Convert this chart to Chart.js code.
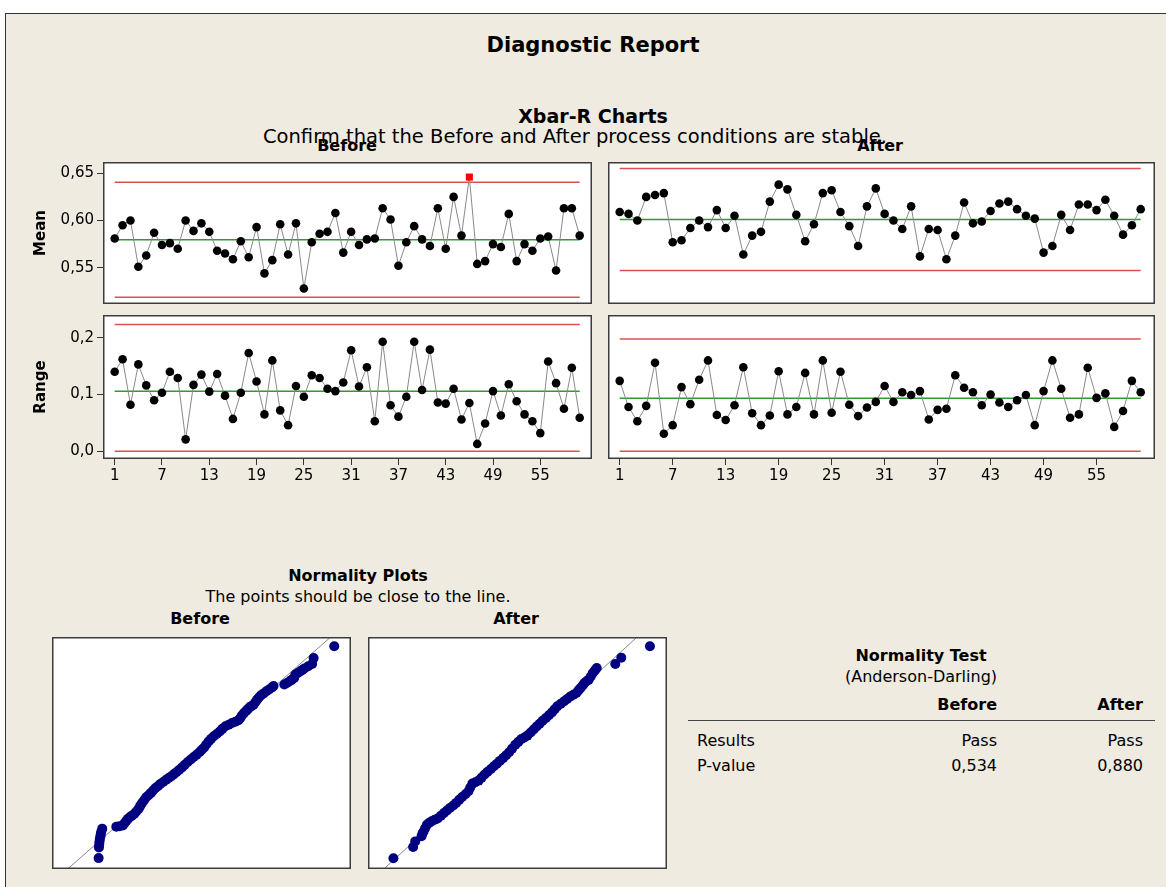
<!DOCTYPE html>
<html><head><meta charset="utf-8">
<script src="https://cdn.jsdelivr.net/npm/chart.js@4"></script>
<style>
html,body{margin:0;padding:0;background:#fff;}
#page{position:relative;width:1166px;height:887px;overflow:hidden;background:#fff;}
#bg{position:absolute;left:5px;top:13px;width:1161px;height:874px;background:#EFEBE1;border-left:1px solid #333;border-top:1px solid #333;box-sizing:border-box;}
.t{position:absolute;white-space:nowrap;font-family:"DejaVu Sans",sans-serif;color:#000;line-height:1;}
.c{transform:translate(-50%,-50%);}
.r{transform:translate(-100%,-50%);}
.l{transform:translate(0,-50%);}
.b{font-weight:bold;}
canvas{position:absolute;}
#rule{position:absolute;left:688px;top:720px;width:467px;height:0;border-top:1px solid #444;}
</style></head>
<body><div id="page">
<div id="bg"></div>
<div class="t c b" style="left:593px;top:45px;font-size:21px;">Diagnostic Report</div>
<div class="t c b" style="left:593px;top:116px;font-size:19px;">Xbar-R Charts</div>
<div class="t c" style="left:575px;top:137px;font-size:19.5px;">Confirm that the Before and After process conditions are stable.</div>
<div class="t c b" style="left:347px;top:146px;font-size:16px;">Before</div>
<div class="t c b" style="left:880px;top:146px;font-size:16px;">After</div>

<canvas id="bm" width="572" height="175" style="left:28px;top:145px;"></canvas>
<canvas id="br" width="572" height="195" style="left:28px;top:300px;"></canvas>
<canvas id="am" width="566" height="175" style="left:600px;top:145px;"></canvas>
<canvas id="ar" width="566" height="195" style="left:600px;top:300px;"></canvas>

<div class="t c b" style="left:358px;top:576px;font-size:16px;">Normality Plots</div>
<div class="t c" style="left:358px;top:597px;font-size:16px;">The points should be close to the line.</div>
<div class="t c b" style="left:200px;top:619px;font-size:16px;">Before</div>
<div class="t c b" style="left:516px;top:619px;font-size:16px;">After</div>
<canvas id="nb" width="299" height="232" style="left:52px;top:637px;"></canvas>
<canvas id="na" width="299" height="232" style="left:368px;top:637px;"></canvas>

<div class="t c b" style="left:921px;top:656px;font-size:16px;">Normality Test</div>
<div class="t c" style="left:921px;top:677px;font-size:16px;">(Anderson-Darling)</div>
<div class="t r b" style="left:997px;top:705px;font-size:16px;">Before</div>
<div class="t r b" style="left:1143px;top:705px;font-size:16px;">After</div>
<div id="rule"></div>
<div class="t l" style="left:697px;top:741px;font-size:16px;">Results</div>
<div class="t r" style="left:997px;top:741px;font-size:16px;">Pass</div>
<div class="t r" style="left:1143px;top:741px;font-size:16px;">Pass</div>
<div class="t l" style="left:697px;top:766px;font-size:16px;">P-value</div>
<div class="t r" style="left:997px;top:766px;font-size:16px;">0,534</div>
<div class="t r" style="left:1143px;top:766px;font-size:16px;">0,880</div>
</div>
<script>
// ---------- data ----------
const xTicks = [1, 7, 13, 19, 25, 31, 37, 43, 49, 55];
const meanTicks = [0.55, 0.60, 0.65];
const rangeTicks = [0.0, 0.1, 0.2];

const beforeMean = [0.581,0.595,0.600,0.551,0.563,0.587,0.574,0.576,0.570,0.600,
  0.589,0.597,0.588,0.568,0.565,0.559,0.578,0.561,0.593,0.544,
  0.558,0.596,0.564,0.597,0.528,0.577,0.586,0.588,0.608,0.566,
  0.588,0.574,0.580,0.581,0.613,0.601,0.552,0.577,0.594,0.580,
  0.573,0.613,0.570,0.625,0.584,0.646,0.554,0.557,0.575,0.572,
  0.607,0.557,0.575,0.568,0.581,0.583,0.547,0.613,0.613,0.584];
const beforeRange = [0.140,0.162,0.082,0.153,0.116,0.090,0.103,0.140,0.129,0.021,
  0.117,0.135,0.105,0.136,0.098,0.057,0.103,0.173,0.123,0.065,
  0.160,0.072,0.046,0.115,0.096,0.134,0.129,0.110,0.106,0.121,
  0.178,0.114,0.148,0.053,0.193,0.081,0.061,0.096,0.193,0.108,
  0.179,0.086,0.084,0.110,0.056,0.085,0.013,0.049,0.106,0.063,
  0.118,0.088,0.065,0.053,0.032,0.158,0.120,0.075,0.147,0.059];
const afterMean = [0.609,0.607,0.600,0.625,0.627,0.629,0.577,0.579,0.592,0.600,
  0.593,0.611,0.592,0.605,0.564,0.584,0.588,0.620,0.638,0.633,
  0.606,0.578,0.596,0.629,0.632,0.609,0.594,0.573,0.615,0.634,
  0.607,0.600,0.591,0.615,0.562,0.591,0.590,0.559,0.584,0.619,
  0.597,0.599,0.610,0.618,0.620,0.612,0.605,0.602,0.566,0.573,
  0.606,0.590,0.617,0.617,0.611,0.622,0.605,0.585,0.595,0.612];
const afterRange = [0.124,0.078,0.053,0.080,0.156,0.031,0.046,0.113,0.083,0.126,
  0.160,0.064,0.055,0.081,0.148,0.067,0.046,0.063,0.141,0.065,
  0.078,0.138,0.065,0.160,0.068,0.140,0.082,0.062,0.077,0.087,
  0.115,0.087,0.104,0.099,0.106,0.056,0.073,0.075,0.134,0.112,
  0.104,0.081,0.100,0.086,0.078,0.090,0.099,0.046,0.106,0.160,
  0.110,0.059,0.065,0.147,0.094,0.102,0.043,0.071,0.124,0.104];

// control limits [LCL, CL, UCL]
const beforeMeanLimits = [0.5188, 0.5797, 0.6406];
const beforeRangeLimits = [0, 0.1056, 0.2233];
const afterMeanLimits = [0.5470, 0.6010, 0.6550];
const afterRangeLimits = [0, 0.0935, 0.1977];

// normal probability plot points (% of plot width / % of plot height)
const normBeforeX = [15.6,15.7,15.8,15.9,16.0,16.2,16.3,16.5,16.8,
  21.5,22.6,23.7,24.3,24.9,25.4,26.0,26.7,27.5,28.2,29.0,29.5,30.1,30.8,31.5,32.3,33.1,33.8,34.6,35.4,36.2,37.2,38.2,39.0,39.8,40.7,41.6,42.5,43.5,44.4,45.4,46.4,47.4,48.4,49.4,50.1,50.9,51.6,52.4,53.2,54.1,55.1,56.1,57.0,58.0,59.1,60.2,61.3,62.4,63.0,63.5,64.2,65.0,65.5,66.1,66.7,67.4,68.0,68.6,69.2,69.9,70.8,71.7,72.6,73.6,74.1,
  77.7,78.6,79.5,80.2,81.0,81.4,82.2,83.1,83.7,84.4,85.7,87.0,87.5,94.4];
const normBeforeY = [4.7,9.3,10.6,11.9,13.0,14.1,15.1,16.2,17.4,
  18.2,18.4,18.8,19.8,20.8,21.6,22.3,23.0,23.7,24.8,26.0,27.2,28.4,29.6,30.9,31.8,32.8,33.8,34.9,35.7,36.6,37.5,38.5,39.2,39.9,40.8,41.7,42.7,43.8,44.9,46.1,47.2,48.3,49.3,50.4,51.4,52.4,53.7,55.0,56.1,57.2,58.2,59.3,60.4,61.5,62.2,62.9,63.5,64.1,65.1,66.2,67.2,68.2,68.9,69.7,70.2,70.8,71.9,73.0,73.9,74.9,75.7,76.6,77.4,78.3,78.9,
  79.5,80.2,80.9,81.6,82.3,83.8,84.5,85.2,85.8,86.4,87.4,88.4,90.9,96.0];
const normAfterX = [8.5,15.1,15.8,
  17.9,18.2,18.6,19.1,19.7,20.5,21.3,22.3,23.3,24.4,25.4,26.4,27.4,28.5,29.5,30.5,31.5,32.6,33.6,34.2,34.9,35.9,37.0,38.0,39.0,40.0,41.1,42.1,43.1,44.1,45.2,46.2,47.2,48.2,49.3,50.3,51.3,52.3,53.3,54.4,55.4,56.4,57.4,58.4,59.5,60.5,61.5,62.4,63.3,64.5,65.6,66.6,67.7,68.7,69.7,70.4,71.1,71.8,72.4,73.1,73.8,74.5,75.2,75.9,76.5,
  82.7,84.7,94.3];
const normAfterY = [4.6,9.5,11.9,
  14.1,15.2,16.2,17.6,19.1,19.9,20.6,21.2,21.8,23.0,24.1,25.2,26.3,27.4,28.5,29.8,31.0,32.2,33.5,35.1,36.8,37.4,38.1,39.4,40.7,41.9,43.1,44.3,45.4,46.6,47.8,49.0,50.3,51.9,53.6,54.8,56.0,56.7,57.5,58.8,60.1,61.4,62.6,63.9,65.1,66.3,67.5,68.8,70.1,71.2,72.3,73.3,74.4,75.1,75.9,77.0,78.0,79.1,80.2,80.9,81.6,83.0,84.5,85.6,86.6,
  88.4,91.1,96.0];
const normBeforeLine = [5.25, 93.2];   // line x at bottom / top of plot
const normAfterLine = [5.3, 90.0];

// ---------- setup ----------
const FONT = '"DejaVu Sans",sans-serif';
Chart.defaults.font.family = FONT;
Chart.defaults.color = '#000';
Chart.defaults.animation = false;
Chart.defaults.responsive = false;
Chart.defaults.devicePixelRatio = 1;
Chart.defaults.plugins.legend.display = false;
Chart.defaults.plugins.tooltip.enabled = false;

const framePlugin = {
  id: 'frame',
  beforeDraw(chart) {
    const a = chart.chartArea, c = chart.ctx;
    c.save(); c.fillStyle = '#fff';
    c.fillRect(a.left, a.top, a.right - a.left, a.bottom - a.top); c.restore();
  },
  afterDraw(chart) {
    const a = chart.chartArea, c = chart.ctx;
    c.save(); c.strokeStyle = '#3c3c3c'; c.lineWidth = 1.5;
    c.strokeRect(a.left + 0.75, a.top + 0.75, a.right - a.left - 1.5, a.bottom - a.top - 1.5); c.restore();
  }
};

const RED = '#de5050', GREEN = '#2f9a2f';

function controlChart(id, values, limits, o) {
  const [lcl, cl, ucl] = limits;
  const pts = values.map((v, i) => ({x: i + 1, y: v}));
  const flat = y => [{x: 1, y}, {x: values.length, y}];
  const out = c => c.raw && (c.raw.y > ucl || c.raw.y < lcl);
  return new Chart(document.getElementById(id), {
    type: 'line',
    data: {datasets: [
      {data: pts, borderColor: '#8a8a8a', borderWidth: 1, tension: 0,
       pointRadius: c => out(c) ? 5 : 4.3,
       pointStyle: c => out(c) ? 'rect' : 'circle',
       pointBackgroundColor: c => out(c) ? '#ff0000' : '#000',
       pointBorderWidth: 0},
      {data: flat(cl), borderColor: GREEN, borderWidth: 1.5, pointRadius: 0},
      {data: flat(ucl), borderColor: RED, borderWidth: 1.5, pointRadius: 0},
      {data: flat(lcl), borderColor: RED, borderWidth: 1.5, pointRadius: 0}
    ]},
    options: {
      layout: {padding: o.padding, autoPadding: false},
      scales: {
        x: {type: 'linear', min: o.xmin, max: o.xmax, display: o.showX,
          afterBuildTicks: s => { s.ticks = xTicks.map(v => ({value: v})); },
          ticks: {font: {size: 15}, padding: 2, maxRotation: 0, autoSkip: false, callback: v => String(v)},
          grid: {drawOnChartArea: false, drawTicks: true, tickLength: 6, color: '#333'},
          border: {display: false},
          afterFit: s => { s.height = o.showX ? 36 : 0; }
        },
        y: {type: 'linear', min: o.ymin, max: o.ymax, display: o.showY,
          afterBuildTicks: s => { s.ticks = o.yTicks.map(v => ({value: v})); },
          ticks: {font: {size: 15}, padding: 3, callback: v => v.toFixed(o.dec).replace('.', ',')},
          grid: {drawOnChartArea: false, drawTicks: true, tickLength: 6, color: '#333'},
          border: {display: false},
          title: {display: !!o.title, text: o.title, font: {size: 15, weight: 'bold'}, padding: {top: 4, bottom: 0}},
          afterFit: s => { s.width = o.showY ? 75 : 0; }
        }
      }
    },
    plugins: [framePlugin]
  });
}

const MEAN_MIN = 0.65 - (304 - 173.3) / 944, MEAN_MAX = 0.65 + (173.3 - 162) / 944;
const RANGE_MIN = (451.3 - 459) / 568, RANGE_MAX = (451.3 - 315) / 568;

controlChart('bm', beforeMean, beforeMeanLimits, {
  padding: {top: 17, bottom: 16, left: 0, right: 8}, xmin: -0.4846, xmax: 61.561, showX: false,
  ymin: MEAN_MIN, ymax: MEAN_MAX, showY: true, yTicks: meanTicks, dec: 2, title: 'Mean'});
controlChart('br', beforeRange, beforeRangeLimits, {
  padding: {top: 15, bottom: 0, left: 0, right: 8}, xmin: -0.4846, xmax: 61.561, showX: true,
  ymin: RANGE_MIN, ymax: RANGE_MAX, showY: true, yTicks: rangeTicks, dec: 1, title: 'Range'});
controlChart('am', afterMean, afterMeanLimits, {
  padding: {top: 17, bottom: 16, left: 8, right: 11}, xmin: -0.325, xmax: 61.619, showX: false,
  ymin: MEAN_MIN, ymax: MEAN_MAX, showY: false, yTicks: meanTicks, dec: 2});
controlChart('ar', afterRange, afterRangeLimits, {
  padding: {top: 15, bottom: 0, left: 8, right: 11}, xmin: -0.325, xmax: 61.619, showX: true,
  ymin: RANGE_MIN, ymax: RANGE_MAX, showY: false, yTicks: rangeTicks, dec: 1});

function normChart(id, xs, ys, line) {
  return new Chart(document.getElementById(id), {
    type: 'scatter',
    data: {datasets: [
      {data: xs.map((x, i) => ({x, y: ys[i]})), pointRadius: 5, pointBackgroundColor: '#000080', pointBorderWidth: 0, showLine: false},
      {type: 'line', data: [{x: line[0], y: 0}, {x: line[1], y: 100}], borderColor: '#8a8a8a', borderWidth: 1, pointRadius: 0}
    ]},
    options: {
      layout: {padding: 0, autoPadding: false},
      scales: {
        x: {type: 'linear', min: 0, max: 100, display: false},
        y: {type: 'linear', min: 0, max: 100, display: false}
      }
    },
    plugins: [framePlugin]
  });
}
normChart('nb', normBeforeX, normBeforeY, normBeforeLine);
normChart('na', normAfterX, normAfterY, normAfterLine);
</script>
</body></html>
